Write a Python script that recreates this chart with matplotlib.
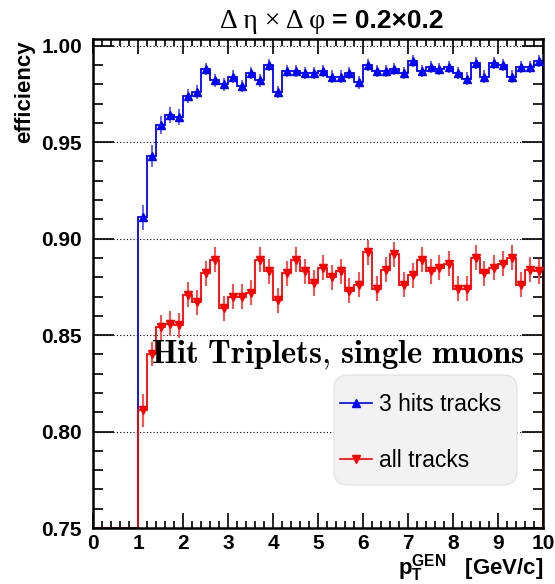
import numpy as np
import matplotlib
matplotlib.use("Agg")
import matplotlib.pyplot as plt
from matplotlib.lines import Line2D
from matplotlib.patches import FancyBboxPatch
from matplotlib.transforms import IdentityTransform
from matplotlib.ticker import MultipleLocator

plt.rcParams['font.family'] = ['Liberation Sans', 'DejaVu Sans']
plt.rcParams['mathtext.fontset'] = 'custom'
plt.rcParams['mathtext.rm'] = 'Liberation Sans'
plt.rcParams['mathtext.bf'] = 'Liberation Sans:bold'

# bins of 0.2 GeV/c from 0 to 10
edges = np.round(np.arange(0, 10.01, 0.2), 1)

# efficiency, 3 hits tracks (first 5 bins empty)
eff_3hits = [0, 0, 0, 0, 0,
             0.911, 0.943, 0.959, 0.964, 0.963, 0.974, 0.976, 0.988, 0.982, 0.980,
             0.984, 0.979, 0.986, 0.982, 0.990, 0.976, 0.987, 0.987, 0.986, 0.986,
             0.987, 0.984, 0.984, 0.986, 0.981, 0.990, 0.987, 0.987, 0.988, 0.986,
             0.992, 0.987, 0.989, 0.988, 0.989, 0.986, 0.983, 0.991, 0.984, 0.991,
             0.990, 0.984, 0.989, 0.989, 0.992]
err_3hits = [0, 0, 0, 0, 0,
             0.0065, 0.0056, 0.0045, 0.0041, 0.0040, 0.0035, 0.0035] + [0.0032] * 38

# efficiency, all tracks
eff_all = [0, 0, 0, 0, 0,
           0.811, 0.840, 0.854, 0.856, 0.855, 0.871, 0.867, 0.882, 0.889, 0.864,
           0.870, 0.870, 0.872, 0.889, 0.883, 0.868, 0.882, 0.889, 0.883, 0.877,
           0.885, 0.880, 0.883, 0.873, 0.876, 0.893, 0.874, 0.884, 0.892, 0.876,
           0.881, 0.889, 0.883, 0.885, 0.887, 0.874, 0.874, 0.890, 0.882, 0.885,
           0.887, 0.890, 0.876, 0.884, 0.883]
err_all = [0, 0, 0, 0, 0, 0.0085, 0.0062] + [0.0065] * 43

ylo, yhi = 0.75, 1.0035

fig = plt.figure(figsize=(5.55, 5.84), dpi=100)
ax = fig.add_axes([93/555, 1 - 528/584, 450/555, 489/584])

centers = (edges[:-1] + edges[1:]) / 2
nz = np.array(eff_3hits) > 0

# step histograms (empty bins drawn on the frame like ROOT does)
ax.stairs(np.maximum(eff_3hits, ylo), edges, color='#0000ff', lw=1.3, baseline=0.7)
ax.stairs(np.maximum(eff_all, ylo), edges, color='#ff0000', lw=1.3, baseline=0.7)

# markers with error bars
ax.errorbar(centers[nz], np.array(eff_3hits)[nz], yerr=np.array(err_3hits)[nz],
            fmt='^', color='#0000ff', ecolor='#5555ff', elinewidth=1.3,
            ms=6, capsize=0, zorder=3)
ax.errorbar(centers[nz], np.array(eff_all)[nz], yerr=np.array(err_all)[nz],
            fmt='v', color='#ff0000', ecolor='#ff5050', elinewidth=1.5,
            ms=6, capsize=0, zorder=3)

ax.set_xlim(0, 10)
ax.set_ylim(ylo, yhi)

# ROOT-like ticks
ax.xaxis.set_major_locator(MultipleLocator(1))
ax.xaxis.set_minor_locator(MultipleLocator(0.2))
ax.yaxis.set_major_locator(MultipleLocator(0.05))
ax.yaxis.set_minor_locator(MultipleLocator(0.01))
ax.tick_params(which='both', direction='in', top=True, right=True, width=1.2)
ax.tick_params(axis='x', which='major', length=11, pad=4)
ax.tick_params(axis='x', which='minor', length=5)
ax.tick_params(axis='y', which='major', length=15, pad=8)
ax.tick_params(axis='y', which='minor', length=7)
yt = [0.75, 0.80, 0.85, 0.90, 0.95, 1.00]
ax.set_yticks(yt)
ax.set_yticklabels(['%.2f' % v for v in yt])
ax.set_xticks(range(11))
for lab in ax.get_xticklabels() + ax.get_yticklabels():
    lab.set_fontweight('bold')
    lab.set_fontsize(15)

for s in ax.spines.values():
    s.set_linewidth(1.8)

ax.grid(axis='y', which='major', linestyle=(0, (1, 2)), color='black', lw=0.8)
ax.set_axisbelow(True)

# titles and labels
fig.text(325/555, 1 - 28/584, u'\u0394 \u03b7 \u00d7 \u0394 \u03c6', ha='right', va='baseline',
         fontsize=20, fontfamily=['Liberation Serif', 'DejaVu Serif'])
fig.text(332/555, 1 - 28/584, u'= 0.2\u00d70.2', ha='left', va='baseline',
         fontsize=19, fontweight='bold')
fig.text(25/555, 1 - 40/584, 'efficiency', rotation=90, ha='center', va='top',
         fontsize=16, fontweight='bold')
fig.text(543/555, 10/584, r'$\mathbf{p}_{\mathbf{T}}^{\mathbf{GEN}}$   [GeV/c]',
         ha='right', va='baseline', fontsize=16, fontweight='bold')

ax.text(0.128, 0.337,
        r'$\mathbf{Hit}\ \mathbf{Triplets,}\,\mathbf{single}\ \mathbf{muons}$',
        transform=ax.transAxes, fontsize=23.5, math_fontfamily='cm',
        ha='left', va='baseline', zorder=5)

# legend box drawn like the ROOT pave
box = FancyBboxPatch((334, 584 - 485), 183, 110,
                     boxstyle='round,pad=0,rounding_size=14',
                     transform=IdentityTransform(), facecolor='#f2f2f2',
                     edgecolor='#e4e4e4', lw=1, zorder=1)
fig.add_artist(box)

handles = [Line2D([], [], color='#0000ff', marker='^', ms=6, lw=1.2),
           Line2D([], [], color='#ff0000', marker='v', ms=6, lw=1.2)]
leg = fig.legend(handles, ['3 hits tracks', 'all tracks'], loc='upper left',
                 bbox_to_anchor=(340/555, 1 - 393/584), borderaxespad=0,
                 fontsize=16.5, frameon=False, labelspacing=1.45,
                 handlelength=1.4, borderpad=0, handletextpad=0.3)
leg.set_zorder(2)

fig.savefig('out.png', dpi=100)
